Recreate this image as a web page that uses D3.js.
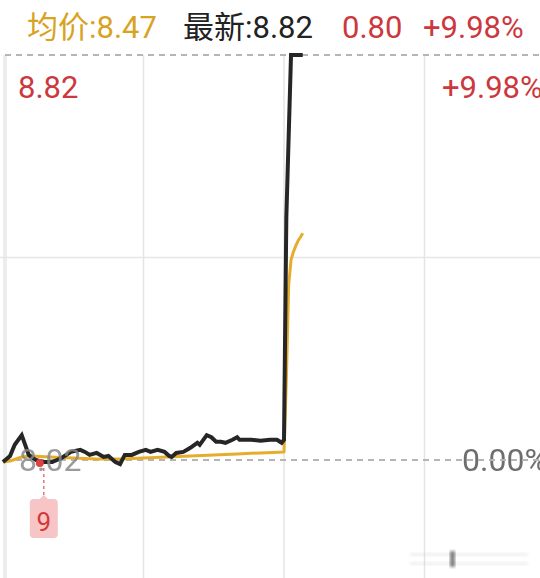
<!DOCTYPE html>
<html><head><meta charset="utf-8">
<script src="https://cdn.jsdelivr.net/npm/d3@7/dist/d3.min.js"></script>
<style>
html,body{margin:0;padding:0;background:#fff;overflow:hidden;}
svg{display:block;font-family:Roboto,"Noto Sans CJK SC",sans-serif;}
</style></head>
<body>
<svg id="c" width="540" height="578"></svg>
<script>
// ---- data ----
const prevClose = 8.02;
const limitUp = 8.82;
const priceMinutes = [0,3,5,8,11,14,17,21,25,29,33,35,37,40,43,45,48,50,52,55,58,61,63,66,69,71,72,74,77,80,83,84,87,89,91,93,95,98,100,101,106,110,114,117,119,120,121,122,123,128];
const prices = [8.016,8.028,8.050,8.069,8.030,8.020,8.016,8.016,8.024,8.036,8.040,8.036,8.030,8.034,8.026,8.028,8.016,8.012,8.030,8.030,8.036,8.040,8.036,8.040,8.036,8.028,8.026,8.034,8.036,8.044,8.054,8.050,8.069,8.065,8.056,8.056,8.054,8.060,8.065,8.060,8.060,8.058,8.060,8.060,8.054,8.060,8.50,8.66,8.82,8.82];
const avgMinutes = [0,3,8,12,20,30,40,50,60,70,80,90,100,110,120,121,122,123,124,125,126,127,128];
const avgPrices = [8.016,8.018,8.026,8.028,8.026,8.024,8.022,8.022,8.024,8.026,8.028,8.030,8.032,8.034,8.036,8.178,8.366,8.415,8.431,8.443,8.453,8.460,8.468];
const gridMinutes = [60,120,180];
const headerLabels = ["均价:8.47","最新:8.82","0.80","+9.98%"];
const axisLabels = {topLeft:"8.82", topRight:"+9.98%", baseLeft:"8.02", baseRight:"0.00%"};
const markerMinute = 17;
const markerLabel = "9";

// ---- drawing ----
const svg = d3.select("#c");
const x = d3.scaleLinear().domain([0,240]).range([3,565]);
const y = d3.scaleLinear().domain([prevClose, limitUp]).range([460,55]);
const RED = "#cc383d", GOLD = "#e6ad2c", BLACK = "#262626";

// left border
svg.append("rect").attr("x",3).attr("y",55).attr("width",4).attr("height",523).attr("fill","#ededed");

// vertical grid
svg.selectAll(".vg").data(gridMinutes).join("line")
  .attr("x1",d=>x(d)).attr("x2",d=>x(d)).attr("y1",y(limitUp)).attr("y2",578)
  .attr("stroke","#e4e4e4").attr("stroke-width",1.5);
// middle horizontal grid
svg.append("line").attr("x1",0).attr("x2",540)
  .attr("y1",y((prevClose+limitUp)/2)).attr("y2",y((prevClose+limitUp)/2))
  .attr("stroke","#e6e6e6").attr("stroke-width",1.5);

// labels under lines
svg.append("text").attr("x",462).attr("y",471).attr("font-size",32).attr("fill","#555").attr("opacity",0.85).text(axisLabels.baseRight);

// dashed top and baseline
[limitUp, prevClose].forEach(v=>{
  svg.append("line").attr("x1",5).attr("x2",540).attr("y1",y(v)).attr("y2",y(v))
    .attr("stroke","#b5b5b5").attr("stroke-width",2).attr("stroke-dasharray","6,5");
});

// avg line
const avgData = avgMinutes.map((m,i)=>[m,avgPrices[i]]);
svg.append("path").datum(avgData)
  .attr("d", d3.line().x(d=>x(d[0])).y(d=>y(d[1])))
  .attr("fill","none").attr("stroke",GOLD).attr("stroke-width",3).attr("stroke-linejoin","round");

// price line
const priceData = priceMinutes.map((m,i)=>[m,prices[i]]);
svg.append("path").datum(priceData)
  .attr("d", d3.line().x(d=>x(d[0])).y(d=>y(d[1])))
  .attr("fill","none").attr("stroke",BLACK).attr("stroke-width",4).attr("stroke-linejoin","miter");

// marker
const mi = priceMinutes.indexOf(markerMinute);
const mx = x(markerMinute), my = y(prices[mi]);
svg.append("circle").attr("cx",mx-3).attr("cy",my+1).attr("r",4).attr("fill","#e04040");
svg.append("line").attr("x1",mx+1).attr("x2",mx+1).attr("y1",my+6).attr("y2",498)
  .attr("stroke","#e06060").attr("stroke-width",1.3).attr("stroke-dasharray","3,3");
const bx = mx+1;
svg.append("path")
  .attr("d",`M${bx-14},${503} q0,-4 4,-4 h6 l4,-4 l4,4 h6 q4,0 4,4 v31 q0,4 -4,4 h-20 q-4,0 -4,-4 z`)
  .attr("fill","#f7c5c5");
svg.append("text").attr("x",bx).attr("y",531).attr("text-anchor","middle").attr("font-size",26).attr("fill","#d23a3a").text(markerLabel);

// prev close label (semi transparent over lines)
svg.append("text").attr("x",19).attr("y",471).attr("font-size",32).attr("fill","#8a8a8a").attr("opacity",0.85).text(axisLabels.baseLeft);

// top labels
svg.append("text").attr("x",18).attr("y",98).attr("font-size",31).attr("fill",RED).text(axisLabels.topLeft);
svg.append("text").attr("x",442).attr("y",98).attr("font-size",31).attr("fill",RED).text(axisLabels.topRight);

// header
const hx = [27,183,342,423];
const hc = ["#d9a21f","#222",RED,RED];
headerLabels.forEach((t,i)=>{
  svg.append("text").attr("x",hx[i]).attr("y",38).attr("font-size",31).attr("fill",hc[i]).text(t);
});

// faint blurred watermark at bottom
const defs = svg.append("defs");
defs.append("filter").attr("id","bl").append("feGaussianBlur").attr("stdDeviation",1.5);
svg.append("rect").attr("x",410).attr("y",553).attr("width",118).attr("height",3).attr("fill","#ccc").attr("opacity",0.3).attr("filter","url(#bl)");
svg.append("rect").attr("x",410).attr("y",562).attr("width",118).attr("height",3).attr("fill","#ccc").attr("opacity",0.3).attr("filter","url(#bl)");
svg.append("rect").attr("x",450).attr("y",551).attr("width",5).attr("height",16).attr("fill","#333").attr("opacity",0.6).attr("filter","url(#bl)");
</script>
</body></html>
